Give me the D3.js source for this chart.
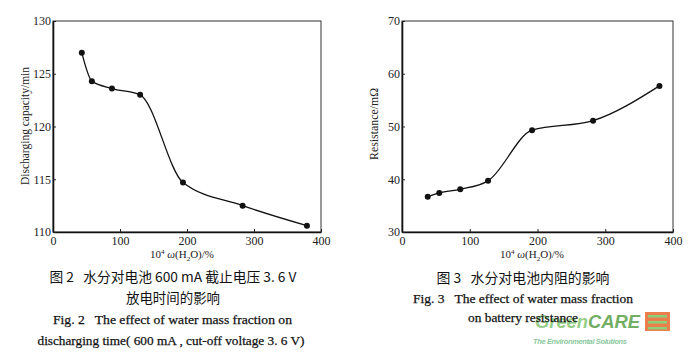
<!DOCTYPE html>
<html><head><meta charset="utf-8">
<script src="https://cdn.jsdelivr.net/npm/d3@7"></script>
<style>body{margin:0;background:#fff}svg{display:block}</style>
</head><body>
<svg id="c" width="693" height="357"></svg>
<script>
// Fig. 2 data: discharging capacity vs water mass fraction
const water2 = [43, 58, 88, 130, 194, 283, 379];
const capacity = [127.0, 124.3, 123.6, 123.0, 114.7, 112.5, 110.6];
// Fig. 3 data: resistance vs water mass fraction
const water3 = [38, 55, 86, 127, 192, 282, 380];
const resistance = [36.7, 37.4, 38.1, 39.7, 49.3, 51.1, 57.7];
const xTicks = [0, 100, 200, 300, 400];
const yTicks2 = [110, 115, 120, 125, 130];
const yTicks3 = [30, 40, 50, 60, 70];

const svg = d3.select("#c");
const serif = "'Liberation Serif','DejaVu Serif','Times New Roman',serif";
const cjk = "'Noto Sans CJK SC','Liberation Serif',serif";

function panel(opt){
  const g = svg.append("g");
  const x = d3.scaleLinear().domain([0,400]).range([opt.x0, opt.x1]);
  const y = d3.scaleLinear().domain(opt.yDom).range([232, 21]);
  g.append("rect").attr("x",opt.x0).attr("y",21).attr("width",opt.x1-opt.x0).attr("height",211)
    .attr("fill","none").attr("stroke","#333").attr("stroke-width",1);
  const xa = g.append("g").attr("transform",`translate(0,232)`)
    .call(d3.axisBottom(x).tickValues(xTicks).tickSizeInner(-3).tickSizeOuter(0).tickPadding(4));
  const ya = g.append("g").attr("transform",`translate(${opt.x0},0)`)
    .call(d3.axisLeft(y).tickValues(opt.yTicks).tickSizeInner(-3).tickSizeOuter(0).tickPadding(2));
  [xa,ya].forEach(a=>{
    a.select(".domain").attr("stroke","#111").attr("stroke-width",1.6);
    a.selectAll(".tick line").attr("stroke","#222");
    a.selectAll("text").attr("font-family",serif).attr("font-size",12).attr("fill","#222");
  });
  const pts = opt.xs.map((v,i)=>[v,opt.ys[i]]);
  g.append("path").datum(pts)
    .attr("d", d3.line().x(d=>x(d[0])).y(d=>y(d[1])).curve(d3.curveMonotoneX))
    .attr("fill","none").attr("stroke","#111").attr("stroke-width",1.3);
  g.selectAll("circle.p").data(pts).join("circle")
    .attr("cx",d=>x(d[0])).attr("cy",d=>y(d[1])).attr("r",3).attr("fill","#111");
  g.append("text").attr("transform",`translate(${opt.ylx},${opt.yly}) rotate(-90)`)
    .attr("text-anchor","middle").attr("font-family",serif).attr("font-size",11.5).attr("fill","#222")
    .attr("textLength",opt.ylen).attr("lengthAdjust","spacingAndGlyphs")
    .text(opt.ylabel);
  const xl = g.append("text").attr("x",opt.xlx).attr("y",258).attr("text-anchor","middle")
    .attr("font-family",serif).attr("font-size",11).attr("fill","#222");
  xl.append("tspan").text("10");
  xl.append("tspan").attr("dy",-4).attr("font-size",7).text("4");
  xl.append("tspan").attr("dy",4).attr("font-style","italic").text(" ω");
  xl.append("tspan").text("(H");
  xl.append("tspan").attr("dy",3).attr("font-size",7).text("2");
  xl.append("tspan").attr("dy",-3).text("O)/%");
}

panel({x0:53,x1:321,yDom:[110,130],yTicks:yTicks2,xs:water2,ys:capacity,
  ylabel:"Discharging capacity/min",ylx:29,yly:126,ylen:118,xlx:182});
panel({x0:402,x1:673,yDom:[30,70],yTicks:yTicks3,xs:water3,ys:resistance,
  ylabel:"Resistance/mΩ",ylx:378,yly:124,ylen:72,xlx:532});

// GreenCARE logo (drawn beneath the caption, as in the reference)
const lg = svg.append("g");
lg.append("text").attr("x",535).attr("y",328).attr("font-family","'Liberation Sans',Arial,sans-serif")
  .attr("font-size",19).attr("font-weight","bold").attr("font-style","italic").attr("opacity",0.8)
  .attr("textLength",105).attr("lengthAdjust","spacingAndGlyphs")
  .each(function(){const t=d3.select(this);
    t.append("tspan").attr("fill","#7cc36a").text("Green");
    t.append("tspan").attr("fill","#4e9a3c").text("CARE");});
lg.append("text").attr("x",533).attr("y",344).attr("font-family","'Liberation Sans',Arial,sans-serif")
  .attr("font-size",7.5).attr("font-style","italic").attr("font-weight","bold").attr("fill","#8cc9a0")
  .attr("textLength",94).text("The Environmental Solutions");
lg.append("rect").attr("x",645).attr("y",312).attr("width",25).attr("height",19).attr("fill","#e8703a").attr("opacity",0.9);
[315,321,327].forEach(yy=>lg.append("rect").attr("x",648).attr("y",yy).attr("width",19).attr("height",2.5).attr("fill","#8cd07a"));

function cap(x,yc,txt,font,size,len,anchor,sw){
  svg.append("text").attr("x",x).attr("y",yc).attr("text-anchor",anchor||"middle")
    .attr("font-family",font).attr("font-size",size)
    .attr("fill","#111").attr("stroke","#111").attr("stroke-width",sw)
    .attr("textLength",len).attr("lengthAdjust","spacingAndGlyphs")
    .attr("xml:space","preserve").text(txt);
}
cap(173,282,"图 2   水分对电池 600 mA 截止电压 3. 6 V",cjk,13.5,247,"middle",0);
cap(173,303,"放电时间的影响",cjk,13.5,94,"middle",0);
cap(172.5,324,"Fig. 2   The effect of water mass fraction on",serif,13.5,239,"middle",0.25);
cap(171,345,"discharging time( 600 mA , cut-off voltage 3. 6 V)",serif,13.5,267,"middle",0.25);
cap(523,283,"图 3   水分对电池内阻的影响",cjk,13.5,173,"middle",0);
cap(523,303,"Fig. 3   The effect of water mass fraction",serif,13.5,220,"middle",0.25);
cap(468,322,"on battery resistance",serif,13.5,110,"start",0.25);
</script>
</body></html>
